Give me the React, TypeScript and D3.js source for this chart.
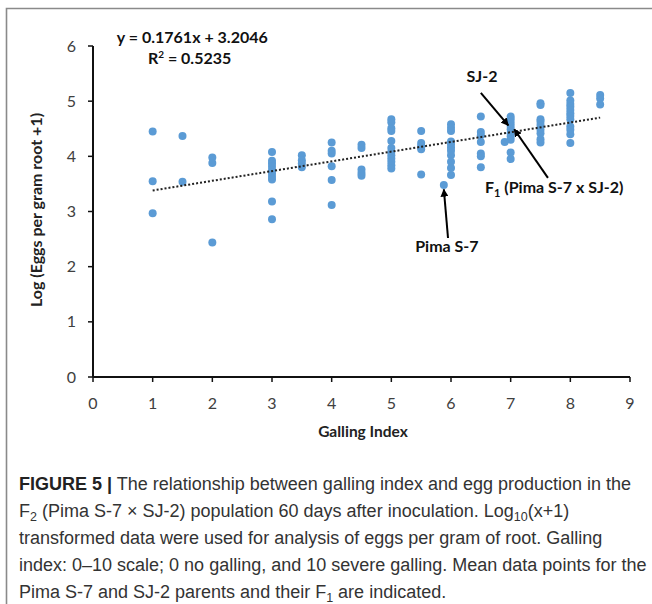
import React from "react";
import * as d3 from "d3";

const gallingColumns = [1, 1.5, 2, 3, 3.5, 4, 4.5, 5, 5.5, 6, 6.5, 7, 7.5, 8, 8.5];
const logEggsByColumn = [
  [4.45, 3.55, 2.97],
  [4.37, 3.54],
  [3.98, 3.88, 2.44],
  [4.08, 3.92, 3.87, 3.81, 3.75, 3.69, 3.63, 3.58, 3.18, 2.86],
  [4.02, 3.93, 3.87, 3.8],
  [4.25, 4.1, 4.05, 3.82, 3.57, 3.12],
  [4.21, 4.15, 3.76, 3.7, 3.65],
  [4.67, 4.62, 4.51, 4.46, 4.28, 4.15, 4.08, 4.02, 3.96, 3.9, 3.84, 3.78],
  [4.46, 4.24, 4.19, 4.13, 3.67],
  [4.58, 4.52, 4.46, 4.27, 4.22, 4.16, 4.1, 4.02, 3.9, 3.79, 3.66],
  [4.72, 4.44, 4.38, 4.26, 4.05, 4.0, 3.8],
  [4.72, 4.67, 4.61, 4.55, 4.49, 4.42, 4.36, 4.3, 4.07, 3.95],
  [4.96, 4.93, 4.67, 4.63, 4.57, 4.48, 4.42, 4.31, 4.25],
  [5.15, 5.01, 4.95, 4.9, 4.84, 4.78, 4.73, 4.67, 4.54, 4.48, 4.4, 4.24],
  [5.11, 5.05, 4.94],
];
const extraX = [5.88, 6.9];
const extraY = [3.48, 4.26];

const slope = 0.1761;
const intercept = 3.2046;
const trendRange = [1, 8.5];

const xTicks = [0, 1, 2, 3, 4, 5, 6, 7, 8, 9];
const yTicks = [0, 1, 2, 3, 4, 5, 6];

// annotations: [x1, y1, x2, y2] in data units
const arrowNames = ["SJ-2", "F1", "Pima S-7"];
const arrowLines = [
  [6.5, 5.15, 6.96, 4.56],
  [7.625, 3.61, 7.06, 4.49],
  [5.95, 2.52, 5.88, 3.4],
];

const FONT = "Lato, 'Open Sans', sans-serif";
const CAP = "'Liberation Sans', Arial, sans-serif";

export default function App() {
  const x = d3.scaleLinear().domain([0, 9]).range([93, 630]);
  const y = d3.scaleLinear().domain([0, 6]).range([377, 46]);

  const points: [number, number][] = [];
  gallingColumns.forEach((g, i) => logEggsByColumn[i].forEach((v) => points.push([g, v])));
  extraX.forEach((g, i) => points.push([g, extraY[i]]));

  const trend = d3
    .line<number>()
    .x((d) => x(d))
    .y((d) => y(slope * d + intercept))(trendRange);

  const axisColor = "#111";
  const labelColor = "#404040";
  const fs = 16;

  return (
    <div style={{ position: "absolute", left: 0, top: 0 }}>
      <svg width={652} height={604} style={{ display: "block", background: "#fff" }}>
        <defs>
          <marker id="ah" viewBox="0 0 10 10" refX="9" refY="5" markerWidth="4" markerHeight="4" orient="auto">
            <path d="M0,0 L10,5 L0,10 z" fill="#000" />
          </marker>
        </defs>
        <path d="M6.5,604 L6.5,8.5 L652,8.5" fill="none" stroke="#8a8a8a" strokeWidth={1.6} />

        {/* axes */}
        <line x1={x(0)} x2={x(9)} y1={y(0)} y2={y(0)} stroke={axisColor} strokeWidth={2} />
        <line x1={x(0)} x2={x(0)} y1={y(0)} y2={y(6)} stroke={axisColor} strokeWidth={2} />
        {xTicks.map((t) => (
          <g key={"x" + t}>
            <line x1={x(t)} x2={x(t)} y1={y(0)} y2={y(0) + 5} stroke={axisColor} strokeWidth={1.5} />
            <text x={x(t)} y={409} textAnchor="middle" fontFamily={FONT} fontSize={fs} fill={labelColor}>
              {t}
            </text>
          </g>
        ))}
        {yTicks.map((t) => (
          <g key={"y" + t}>
            <line x1={x(0) - 5} x2={x(0)} y1={y(t)} y2={y(t)} stroke={axisColor} strokeWidth={1.5} />
            <text x={76} y={y(t) + 5.5} textAnchor="end" fontFamily={FONT} fontSize={fs} fill={labelColor}>
              {t}
            </text>
          </g>
        ))}

        <text x={363} y={437} textAnchor="middle" fontFamily={FONT} fontWeight={700} fontSize={15.5} fill="#222">
          Galling Index
        </text>
        <text
          transform={`translate(42,210) rotate(-90)`}
          textAnchor="middle"
          fontFamily={FONT}
          fontWeight={700}
          fontSize={fs}
          fill="#222"
        >
          Log (Eggs per gram root +1)
        </text>

        {/* points */}
        {points.map((p, i) => (
          <circle key={i} cx={x(p[0])} cy={y(p[1])} r={4} fill="#5b9bd5" />
        ))}

        {/* trendline */}
        <path d={trend || ""} fill="none" stroke="#222" strokeWidth={2} strokeDasharray="2,2" />

        {/* equation */}
        <text x={x(0.4)} y={y(6.05)} fontFamily={FONT} fontWeight={700} fontSize={fs} fill="#111">
          y = 0.1761x + 3.2046
        </text>
        <text x={x(0.92)} y={y(5.67)} fontFamily={FONT} fontWeight={700} fontSize={fs} fill="#111">
          R<tspan fontSize={10} dy={-6}>2</tspan>
          <tspan dy={6}> = 0.5235</tspan>
        </text>

        {/* annotations */}
        {arrowLines.map((a, i) => (
          <line
            key={arrowNames[i]}
            x1={x(a[0])}
            y1={y(a[1])}
            x2={x(a[2])}
            y2={y(a[3])}
            stroke="#000"
            strokeWidth={2}
            markerEnd="url(#ah)"
          />
        ))}
        <text x={x(6.52)} y={y(5.35)} textAnchor="middle" fontFamily={FONT} fontWeight={700} fontSize={fs} fill="#111">
          SJ-2
        </text>
        <text x={x(6.57)} y={y(3.34)} fontFamily={FONT} fontWeight={700} fontSize={fs} fill="#111">
          F<tspan fontSize={11} dy={4}>1</tspan>
          <tspan dy={-4}> (Pima S-7 x SJ-2)</tspan>
        </text>
        <text x={x(5.4)} y={y(2.27)} fontFamily={FONT} fontWeight={700} fontSize={fs} fill="#111">
          Pima S-7
        </text>

        {/* caption */}
        <g fontFamily={CAP} fontSize={18} fill="#333">
          <text x={19} y={490}>
            <tspan fontWeight={700} fill="#222">FIGURE 5 |</tspan> The relationship between galling index and egg production in the
          </text>
          <text x={19} y={517}>
            F<tspan fontSize={12.5} dy={4}>2</tspan>
            <tspan dy={-4}> (Pima S-7 × SJ-2) population 60 days after inoculation. Log</tspan>
            <tspan fontSize={12.5} dy={4}>10</tspan>
            <tspan dy={-4}>(x+1)</tspan>
          </text>
          <text x={19} y={544}>transformed data were used for analysis of eggs per gram of root. Galling</text>
          <text x={19} y={571}>index: 0–10 scale; 0 no galling, and 10 severe galling. Mean data points for the</text>
          <text x={19} y={598}>
            Pima S-7 and SJ-2 parents and their F<tspan fontSize={12.5} dy={4}>1</tspan>
            <tspan dy={-4}> are indicated.</tspan>
          </text>
        </g>
      </svg>
    </div>
  );
}
